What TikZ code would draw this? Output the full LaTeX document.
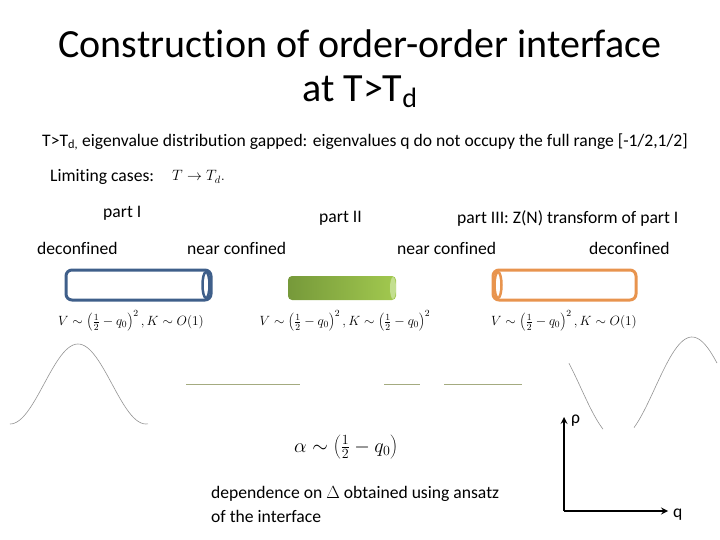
\documentclass[tikz,border=0pt]{standalone}
\usepackage{fix-cm}
\usepackage{fontspec}
\setmainfont[Ligatures=NoCommon]{Carlito}
\usetikzlibrary{arrows.meta,positioning}
\definecolor{cylblue}{RGB}{63,95,138}
\definecolor{cylorange}{RGB}{232,148,78}
\definecolor{cylgreenD}{RGB}{118,153,58}
\definecolor{cylgreenL}{RGB}{162,201,79}
\definecolor{cylgreenE}{RGB}{195,223,143}
\definecolor{lineolive}{RGB}{164,171,128}
\begin{document}
\begin{tikzpicture}[
  x=1pt, y=-1pt,
  title/.style={font=\fontsize{40}{46}\selectfont, inner sep=0pt},
  txt/.style={font=\fontsize{17.6}{21}\selectfont, inner sep=0pt, anchor=west},
  formula/.style={font=\fontsize{13.4}{16}\selectfont, inner sep=0pt},
  cyl/.style={line width=3pt, rounded corners=6pt},
  curve/.style={gray!85, line width=0.6pt},
  gapline/.style={lineolive, line width=1pt},
  arrow/.style={line width=2pt,->,>=stealth}
]
\useasboundingbox (0,0) rectangle (720,540);

\node[title] (title1) at (360,44) {Construction of order-order interface};
\node[title] (title2) at (360,92) {at T>T\textsubscript{d}};

\node[txt] (gapped) at (42,142) {T>T\textsubscript{d,} eigenvalue distribution gapped: eigenvalues q do not occupy the full range [-1/2,1/2]};
\node[txt] (limit) at (50,177) {Limiting cases:};
\node[formula, font=\fontsize{15}{18}\selectfont, anchor=west] (limitm) at (172,177) {$T\to T_d.$};

\node[txt] (part1) at (103,213) {part I};
\node[txt] (part2) at (319,218) {part II};
\node[txt] (part3) at (457,218) {part III: Z(N) transform of part I};

\node[txt] (dec1) at (37,248) {deconfined};
\node[txt] (near1) at (187,248) {near confined};
\node[txt] (near2) at (397,248) {near confined};
\node[txt] (dec2) at (589,248) {deconfined};

\draw[cyl, cylblue] (66,270) rectangle (211,300);
\draw[cylblue, line width=2.5pt] (206,285) ellipse [x radius=3.5, y radius=13];
\shade[left color=cylgreenD, right color=cylgreenL, rounded corners=4pt] (288,276) rectangle (396,300);
\fill[cylgreenE] (393,288) ellipse [x radius=3, y radius=11];
\draw[cyl, cylorange] (493,270) rectangle (636,300);
\draw[cylorange, line width=2.5pt] (498,285) ellipse [x radius=3.5, y radius=13];

\node[formula] (pot1) at (131,321) {$V\sim\left(\frac12-q_0\right)^2, K\sim O(1)$};
\node[formula] (pot2) at (345,321) {$V\sim\left(\frac12-q_0\right)^2, K\sim\left(\frac12-q_0\right)^2$};
\node[formula] (pot3) at (564,321) {$V\sim\left(\frac12-q_0\right)^2, K\sim O(1)$};

\draw[curve] plot[domain=10:148, samples=60] (\x, {384-40*cos((\x-78)*2.647)});
\draw[gapline] (186,384) -- (300,384);
\draw[gapline] (384,384) -- (420,384);
\draw[gapline] (444,384) -- (522,384);
\draw[curve] plot[domain=569:603, samples=20] (\x, {388-51*cos((\x-692)*2.43)});
\draw[curve] plot[domain=634:717, samples=40] (\x, {388-51*cos((\x-692)*2.43)});

\node[formula, font=\fontsize{20}{24}\selectfont] (alpha) at (346,447) {$\alpha\sim\left(\frac12-q_0\right)$};
\node[txt] (dep1) at (211,494) {dependence on $\Delta$ obtained using ansatz};
\node[txt] (dep2) at (211,516) {of the interface};

\coordinate (org) at (564,511);
\coordinate (ytip) at (564,417);
\coordinate (xtip) at (668,511);
\node[txt] (rho) at (571,421) {ρ};
\node[txt] (qlab) at (673,515) {q};
\draw[arrow] (org) -- (ytip);
\draw[arrow] (org) -- (xtip);

\end{tikzpicture}
\end{document}
